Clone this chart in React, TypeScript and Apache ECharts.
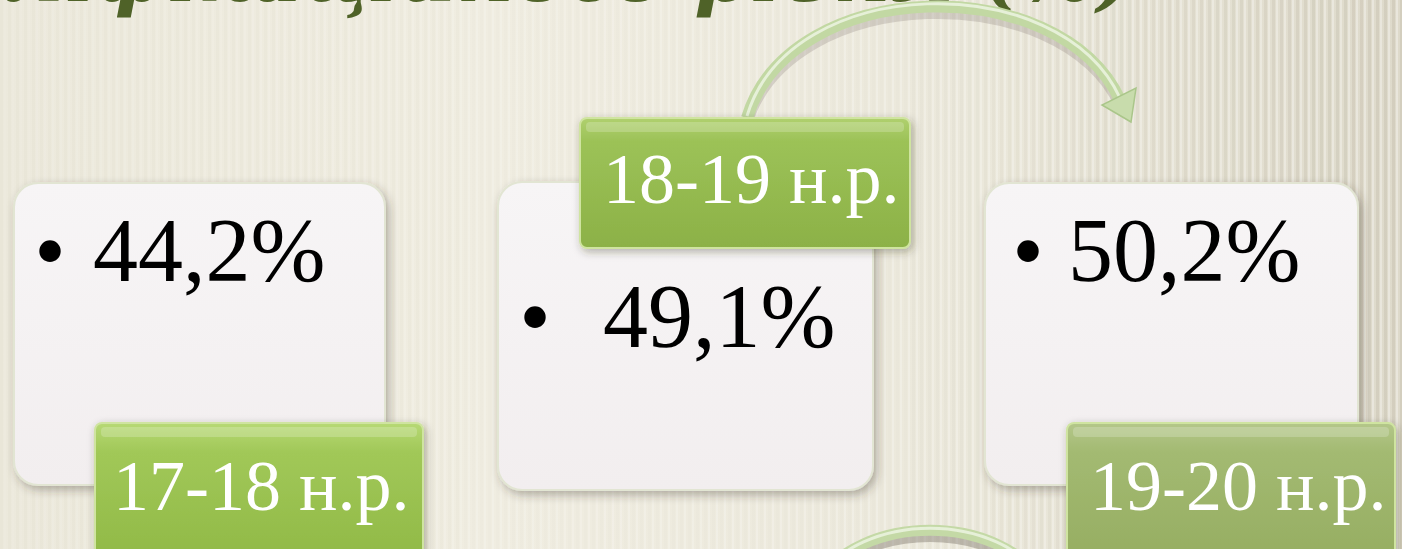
import React, { useEffect, useRef } from "react";
import * as echarts from "echarts";

// ---- data ----
const periods: string[] = ["17-18 н.р.", "18-19 н.р.", "19-20 н.р."];
const shares: number[] = [44.2, 49.1, 50.2];
const titleText = "Показник навченості Кваліфікаційного рівня (%)";

const W = 1402;
const H = 549;

// layout (positions and sizes, not data)
const boxes = [
  { x: 14, y: 183, w: 371, h: 302 },
  { x: 498, y: 182, w: 375, h: 308 },
  { x: 985, y: 183, w: 373, h: 302 },
];
const labelBoxes = [
  { x: 95, y: 423, w: 328, h: 160, c: ["#b7d975", "#a1c858", "#8db643"] },
  { x: 580, y: 118, w: 330, h: 130, c: ["#b0d06f", "#9cc257", "#8cb147"] },
  { x: 1067, y: 423, w: 328, h: 160, c: ["#b4c78a", "#a3ba72", "#93ab5e"] },
];
const labelText = [
  { x: 113, y: 486 },
  { x: 603, y: 179 },
  { x: 1090, y: 486 },
];
const valueText = [
  { bx: 50, x: 93, y: 250 },
  { bx: 535, x: 603, y: 316 },
  { bx: 1028, x: 1068, y: 250 },
];

const fmt = (v: number) => v.toFixed(1).replace(".", ",") + "%";

export default function App() {
  const ref = useRef<HTMLDivElement>(null);

  useEffect(() => {
    document.body.style.margin = "0";
    if (!ref.current) return;
    const chart = echarts.init(ref.current, undefined, { renderer: "svg" });

    const els: any[] = [];

    // background
    els.push({
      type: "rect",
      shape: { x: 0, y: 0, width: W, height: H },
      style: {
        fill: {
          type: "linear", x: 0, y: 0, x2: 1, y2: 0,
          colorStops: [
            { offset: 0, color: "#ece9dc" },
            { offset: 0.35, color: "#f0ede1" },
            { offset: 0.7, color: "#ebe8db" },
            { offset: 1, color: "#dedacb" },
          ],
        },
      },
      silent: true,
    });
    // decorative vertical stripes
    for (let x = 0; x < W; x += 8) {
      const t = x / W;
      const dark = t < 0.33 ? 0.025 : t < 0.65 ? 0.015 : 0.03 + (t - 0.65) * 0.3;
      els.push({
        type: "rect",
        shape: { x: x, y: 0, width: 3, height: H },
        style: { fill: `rgba(140,130,105,${dark.toFixed(3)})` },
        silent: true,
      });
      els.push({
        type: "rect",
        shape: { x: x + 4, y: 0, width: 2, height: H },
        style: { fill: `rgba(255,255,255,${(0.08 + t * 0.25).toFixed(3)})` },
        silent: true,
      });
    }

    // title (cut off at the top, as in the reference)
    els.push({
      type: "text",
      x: 1135,
      y: -27,
      style: {
        text: titleText,
        fill: "#4f6228",
        font: "italic bold 80px 'DejaVu Serif', serif",
        textAlign: "right",
        textVerticalAlign: "middle",
      },
      silent: true,
    });

    // top curved arrow
    const arc = { x1: 747, y1: 118, cpx1: 790, cpy1: -25, cpx2: 1060, cpy2: -30, x2: 1120, y2: 100 };
    els.push({
      type: "bezierCurve",
      shape: { ...arc, y1: arc.y1 + 6, cpy1: arc.cpy1 + 8, cpy2: arc.cpy2 + 8, y2: arc.y2 + 6 },
      style: { stroke: "rgba(90,70,70,0.18)", lineWidth: 10, fill: null },
      silent: true,
    });
    els.push({
      type: "bezierCurve",
      shape: arc,
      style: { stroke: "#c2d8a3", lineWidth: 12, fill: null },
      silent: true,
    });
    els.push({
      type: "bezierCurve",
      shape: { ...arc, y1: arc.y1 - 2, cpy1: arc.cpy1 - 3, cpy2: arc.cpy2 - 3, y2: arc.y2 - 2 },
      style: { stroke: "#e6f0d8", lineWidth: 3, fill: null },
      silent: true,
    });
    els.push({
      type: "polygon",
      shape: { points: [[1131, 122], [1102, 105], [1136, 88]] },
      style: { fill: "#c8dcac", stroke: "#aac68a", lineWidth: 1.5 },
      silent: true,
    });

    // bottom curved arrow (partially visible)
    const arc2 = { x1: 815, y1: 585, cpx1: 860, cpy1: 512, cpx2: 1000, cpy2: 512, x2: 1045, y2: 585 };
    els.push({
      type: "bezierCurve",
      shape: { ...arc2, y1: arc2.y1 + 6, cpy1: arc2.cpy1 + 7, cpy2: arc2.cpy2 + 7, y2: arc2.y2 + 6 },
      style: { stroke: "rgba(80,70,60,0.3)", lineWidth: 10, fill: null },
      silent: true,
    });
    els.push({
      type: "bezierCurve",
      shape: arc2,
      style: { stroke: "#c4d9a6", lineWidth: 11, fill: null },
      silent: true,
    });
    els.push({
      type: "bezierCurve",
      shape: { ...arc2, y1: arc2.y1 - 2, cpy1: arc2.cpy1 - 2, cpy2: arc2.cpy2 - 2, y2: arc2.y2 - 2 },
      style: { stroke: "#e6f0d8", lineWidth: 3, fill: null },
      silent: true,
    });

    // white boxes
    boxes.forEach((b) => {
      els.push({
        type: "rect",
        shape: { x: b.x, y: b.y, width: b.w, height: b.h, r: 24 },
        style: {
          fill: {
            type: "linear", x: 0, y: 0, x2: 0, y2: 1,
            colorStops: [
              { offset: 0, color: "#f7f5f6" },
              { offset: 1, color: "#f2eeef" },
            ],
          },
          stroke: "#e2e5d3",
          lineWidth: 2,
          shadowBlur: 10,
          shadowColor: "rgba(60,50,40,0.35)",
          shadowOffsetX: 3,
          shadowOffsetY: 4,
        },
        silent: true,
      });
    });

    // value texts with bullets
    shares.forEach((v, i) => {
      const p = valueText[i];
      els.push({
        type: "text",
        x: p.bx,
        y: p.y,
        style: {
          text: "•",
          fill: "#000",
          font: "90px 'Liberation Serif', 'Times New Roman', serif",
          textAlign: "center",
          textVerticalAlign: "middle",
        },
        silent: true,
      });
      els.push({
        type: "text",
        x: p.x,
        y: p.y,
        style: {
          text: fmt(v),
          fill: "#000",
          font: "90px 'Liberation Serif', 'Times New Roman', serif",
          textAlign: "left",
          textVerticalAlign: "middle",
        },
        silent: true,
      });
    });

    // green period labels
    periods.forEach((p, i) => {
      const b = labelBoxes[i];
      els.push({
        type: "rect",
        shape: { x: b.x, y: b.y, width: b.w, height: b.h, r: 7 },
        style: {
          fill: {
            type: "linear", x: 0, y: 0, x2: 0, y2: 1,
            colorStops: [
              { offset: 0, color: b.c[0] },
              { offset: 0.18, color: b.c[1] },
              { offset: 1, color: b.c[2] },
            ],
          },
          stroke: "#cfe4a0",
          lineWidth: 2,
          shadowBlur: 8,
          shadowColor: "rgba(50,50,30,0.35)",
          shadowOffsetX: 2,
          shadowOffsetY: 3,
        },
        silent: true,
      });
      els.push({
        type: "rect",
        shape: { x: b.x + 6, y: b.y + 4, width: b.w - 12, height: 10, r: 4 },
        style: { fill: "rgba(255,255,255,0.2)" },
        silent: true,
      });
      const t = labelText[i];
      els.push({
        type: "text",
        x: t.x,
        y: t.y,
        style: {
          text: p,
          fill: "#ffffff",
          font: "72px 'Liberation Serif', 'Times New Roman', serif",
          textAlign: "left",
          textVerticalAlign: "middle",
        },
        silent: true,
      });
    });

    chart.setOption({
      animation: false,
      graphic: { elements: els },
    });

    return () => chart.dispose();
  }, []);

  return <div ref={ref} style={{ width: W, height: H }} />;
}
